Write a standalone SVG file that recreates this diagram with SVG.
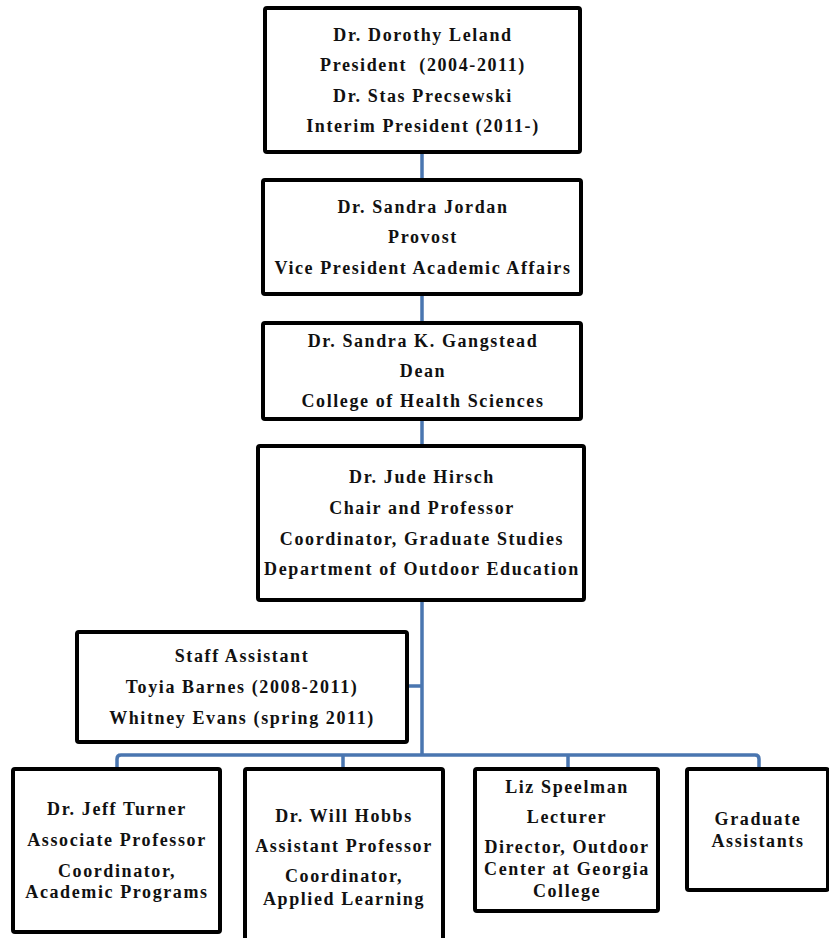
<svg xmlns="http://www.w3.org/2000/svg" width="829" height="938" viewBox="0 0 829 938">
<style>
.box{fill:#fff;stroke:#000;stroke-width:4;}
text{text-anchor:middle;letter-spacing:1.6px;fill:#111;}
.c{fill:none;stroke:#4a76b0;stroke-width:3.5;stroke-linejoin:round;}
</style>
<rect width="829" height="938" fill="#fff"/>
<g id="connectors">
<path class="c" d="M422 152V180M422 294V323M422 419V446M422 600V755M422 686H407"/>
<path class="c" d="M117 769V759Q117 755 121 755H755Q759 755 759 759V769M343 755V769M568 755V769"/>
</g>
<g font-family="Liberation Serif, serif" font-size="18" font-weight="bold">
<g id="president">
<rect class="box" x="265" y="8" width="315" height="144" rx="2"/>
<text x="423" y="40.5">Dr. Dorothy Leland</text>
<text x="423" y="71" xml:space="preserve">President  (2004-2011)</text>
<text x="423" y="101.5">Dr. Stas Precsewski</text>
<text x="423" y="132">Interim President (2011-)</text>
</g>
<g id="provost">
<rect class="box" x="263" y="180" width="318" height="114" rx="2"/>
<text x="423" y="213">Dr. Sandra Jordan</text>
<text x="423" y="243">Provost</text>
<text x="423" y="274">Vice President Academic Affairs</text>
</g>
<g id="dean">
<rect class="box" x="263" y="323" width="318" height="96" rx="2"/>
<text x="423" y="347">Dr. Sandra K. Gangstead</text>
<text x="423" y="377">Dean</text>
<text x="423" y="407">College of Health Sciences</text>
</g>
<g id="chair">
<rect class="box" x="258" y="446" width="326" height="154" rx="2"/>
<text x="422" y="483">Dr. Jude Hirsch</text>
<text x="422" y="514">Chair and Professor</text>
<text x="422" y="545">Coordinator, Graduate Studies</text>
<text x="422" y="575">Department of Outdoor Education</text>
</g>
<g id="staff">
<rect class="box" x="77" y="632" width="330" height="110" rx="2"/>
<text x="242" y="662">Staff Assistant</text>
<text x="242" y="693">Toyia Barnes (2008-2011)</text>
<text x="242" y="724">Whitney Evans (spring 2011)</text>
</g>
<g id="turner">
<rect class="box" x="13" y="769" width="207" height="163" rx="2"/>
<text x="117" y="815">Dr. Jeff Turner</text>
<text x="117" y="846">Associate Professor</text>
<text x="117" y="877">Coordinator,</text>
<text x="117" y="898">Academic Programs</text>
</g>
<g id="hobbs">
<rect class="box" x="245" y="769" width="198" height="180" rx="2"/>
<text x="344" y="822">Dr. Will Hobbs</text>
<text x="344" y="852">Assistant Professor</text>
<text x="344" y="882">Coordinator,</text>
<text x="344" y="905">Applied Learning</text>
</g>
<g id="speelman">
<rect class="box" x="475" y="769" width="183" height="142" rx="2"/>
<text x="567" y="793">Liz Speelman</text>
<text x="567" y="823">Lecturer</text>
<text x="567" y="853">Director, Outdoor</text>
<text x="567" y="875">Center at Georgia</text>
<text x="567" y="897">College</text>
</g>
<g id="graduate">
<rect class="box" x="687" y="769" width="141" height="121" rx="2"/>
<text x="758" y="825">Graduate</text>
<text x="758" y="847">Assistants</text>
</g>
</g>
</svg>
